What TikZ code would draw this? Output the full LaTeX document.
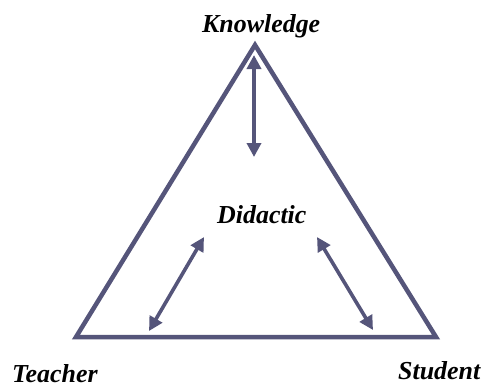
\documentclass[tikz,border=0pt]{standalone}
\usepackage{fontspec}
\setmainfont{Liberation Serif}
\usetikzlibrary{arrows.meta}
\definecolor{Slate}{HTML}{55557A}

\begin{document}
\begin{tikzpicture}[x=1bp,y=-1bp]
    \useasboundingbox (0,0) rectangle (481,387);
    % corners of the triangle
    \coordinate (know) at (255,45);
    \coordinate (teach) at (76,337);
    \coordinate (stud) at (436,337);
    \draw[Slate,line width=4.5bp,line join=miter] (know) -- (stud) -- (teach) -- cycle;
    % labels
    \tikzset{lbl/.style={inner sep=0pt,anchor=base west,font=\fontsize{26}{30}\selectfont\bfseries\itshape}}
    \node[lbl] (knowledge) at (202,32) {Knowledge};
    \node[lbl] (didactic) at (217,223) {Didactic};
    \node[lbl] (teacher) at (12,382) {Teacher};
    \node[lbl] (student) at (398,379) {Student};
    % double arrows
    \tikzset{link/.style={Slate,line width=3.6bp,{Triangle[length=14bp,width=14bp]}-{Triangle[length=14bp,width=14bp]}}}
    \coordinate (k1) at (254,55);  \coordinate (k2) at (254,157);
    \coordinate (t1) at (149,331); \coordinate (t2) at (204,237);
    \coordinate (s1) at (317,237); \coordinate (s2) at (373,330);
    \draw[link] (k1) -- (k2);
    \draw[link] (t1) -- (t2);
    \draw[link] (s1) -- (s2);
  \end{tikzpicture}
\end{document}
